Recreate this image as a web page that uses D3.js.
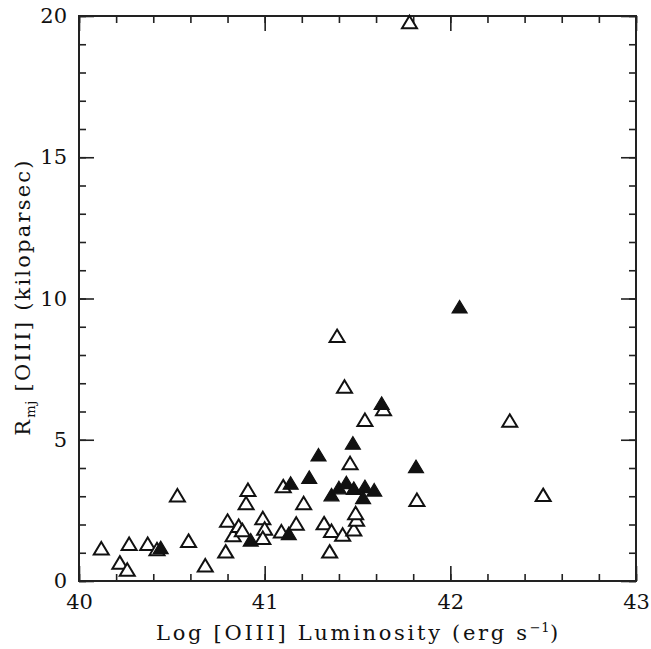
<!DOCTYPE html>
<html>
<head>
<meta charset="utf-8">
<script src="https://cdn.jsdelivr.net/npm/d3@7"></script>
<style>
  html, body { margin: 0; padding: 0; background: #fff; }
  svg { display: block; }
  text { font-family: "DejaVu Serif", "Liberation Serif", serif; fill: #111; }
</style>
</head>
<body>
<svg id="chart" width="651" height="649"></svg>
<script>
// [OIII] luminosity vs. extent; open triangles and filled triangles are two source classes
const openLogL = [40.12, 40.22, 40.26, 40.27, 40.37, 40.42, 40.53, 40.59, 40.68, 40.79,
                  40.80, 40.83, 40.86, 40.88, 40.90, 40.91, 40.99, 41.00, 40.99, 41.09,
                  41.10, 41.17, 41.21, 41.32, 41.36, 41.42, 41.48, 41.495, 41.49, 41.35,
                  41.39, 41.43, 41.64, 41.54, 41.46, 41.82, 41.78, 42.32, 42.50];
const openR    = [1.15, 0.65, 0.40, 1.31, 1.31, 1.12, 3.03, 1.42, 0.55, 1.04,
                  2.13, 1.62, 1.95, 1.80, 2.75, 3.22, 2.22, 1.85, 1.52, 1.75,
                  3.35, 2.03, 2.75, 2.04, 1.77, 1.64, 1.82, 2.17, 2.40, 1.04,
                  8.67, 6.88, 6.08, 5.70, 4.17, 2.87, 19.78, 5.67, 3.04];

const filledLogL = [40.44, 40.925, 41.13, 41.14, 41.24, 41.29, 41.475, 41.63, 41.815, 42.05,
                    41.36, 41.40, 41.44, 41.48, 41.54, 41.59, 41.53];
const filledR    = [1.18, 1.45, 1.68, 3.46, 3.67, 4.46, 4.88, 6.29, 4.05, 9.70,
                    3.05, 3.30, 3.48, 3.28, 3.34, 3.22, 2.95];

const xTicks = [40, 41, 42, 43];
const yTicks = [0, 5, 10, 15, 20];
const xMinor = d3.range(40, 43.001, 0.2).map(v => +v.toFixed(1));
const yMinor = d3.range(0, 20.001, 1);

const svg = d3.select("#chart");
const plotL = 79, plotR = 636, plotT = 16, plotB = 581;

const x = d3.scaleLinear().domain([40, 43]).range([plotL, plotR]);
const y = d3.scaleLinear().domain([0, 20]).range([plotB, plotT]);

const ink = "#111";

// frame
svg.append("rect")
  .attr("x", plotL).attr("y", plotT)
  .attr("width", plotR - plotL).attr("height", plotB - plotT)
  .attr("fill", "none").attr("stroke", "#222").attr("stroke-width", 2);

function styleAxis(g) {
  g.select(".domain").remove();
  g.selectAll(".tick line").attr("stroke", "#222").attr("stroke-width", 1.6);
}

// inward ticks on all four sides: minor then major
const sides = [
  { axis: d3.axisBottom, scale: x, tr: `translate(0,${plotB})`, minor: xMinor, major: xTicks },
  { axis: d3.axisTop,    scale: x, tr: `translate(0,${plotT})`, minor: xMinor, major: xTicks },
  { axis: d3.axisLeft,   scale: y, tr: `translate(${plotL},0)`, minor: yMinor, major: yTicks },
  { axis: d3.axisRight,  scale: y, tr: `translate(${plotR},0)`, minor: yMinor, major: yTicks }
];
sides.forEach(s => {
  svg.append("g").attr("transform", s.tr)
    .call(s.axis(s.scale).tickValues(s.minor).tickSize(-7).tickFormat(""))
    .call(styleAxis);
  svg.append("g").attr("transform", s.tr)
    .call(s.axis(s.scale).tickValues(s.major).tickSize(-15).tickFormat(""))
    .call(styleAxis);
});

// tick labels
const xLab = svg.append("g").attr("transform", `translate(0,${plotB})`)
  .call(d3.axisBottom(x).tickValues(xTicks).tickSize(0).tickPadding(13).tickFormat(d3.format("d")));
xLab.select(".domain").remove();
xLab.selectAll("text").attr("font-size", 21).attr("font-family", "DejaVu Serif").attr("fill", ink);

const yLab = svg.append("g").attr("transform", `translate(${plotL},0)`)
  .call(d3.axisLeft(y).tickValues(yTicks).tickSize(0).tickPadding(12).tickFormat(d3.format("d")));
yLab.select(".domain").remove();
yLab.selectAll("text").attr("font-size", 21).attr("font-family", "DejaVu Serif").attr("fill", ink);

// axis titles
const xt = svg.append("text")
  .attr("x", (plotL + plotR) / 2 + 1).attr("y", 640)
  .attr("text-anchor", "middle").attr("font-size", 21)
  .attr("letter-spacing", 2.7).attr("fill", ink);
xt.append("tspan").text("Log [OIII] Luminosity (erg s");
xt.append("tspan").attr("dy", -8).attr("font-size", 13).attr("letter-spacing", 0.5).text("−1");
xt.append("tspan").attr("dy", 8).text(")");

const yt = svg.append("text")
  .attr("transform", `translate(30,297) rotate(-90)`)
  .attr("text-anchor", "middle").attr("font-size", 21)
  .attr("letter-spacing", 2.2).attr("fill", ink);
yt.append("tspan").text("R");
yt.append("tspan").attr("dy", 5).attr("font-size", 13).attr("letter-spacing", 0.5).text("mj");
yt.append("tspan").attr("dy", -5).text(" [OIII] (kiloparsec)");

// triangle marker centred on its bounding box
const tri = "M0,-6.5L7.5,6L-7.5,6Z";

svg.append("g").selectAll("path")
  .data(d3.zip(openLogL, openR))
  .join("path")
  .attr("d", tri)
  .attr("transform", d => `translate(${x(d[0])},${y(d[1])})`)
  .attr("fill", "#fff").attr("stroke", ink).attr("stroke-width", 2)
  .attr("stroke-linejoin", "miter");

svg.append("g").selectAll("path")
  .data(d3.zip(filledLogL, filledR))
  .join("path")
  .attr("d", tri)
  .attr("transform", d => `translate(${x(d[0])},${y(d[1])})`)
  .attr("fill", ink).attr("stroke", ink).attr("stroke-width", 1.2);
</script>
</body>
</html>
